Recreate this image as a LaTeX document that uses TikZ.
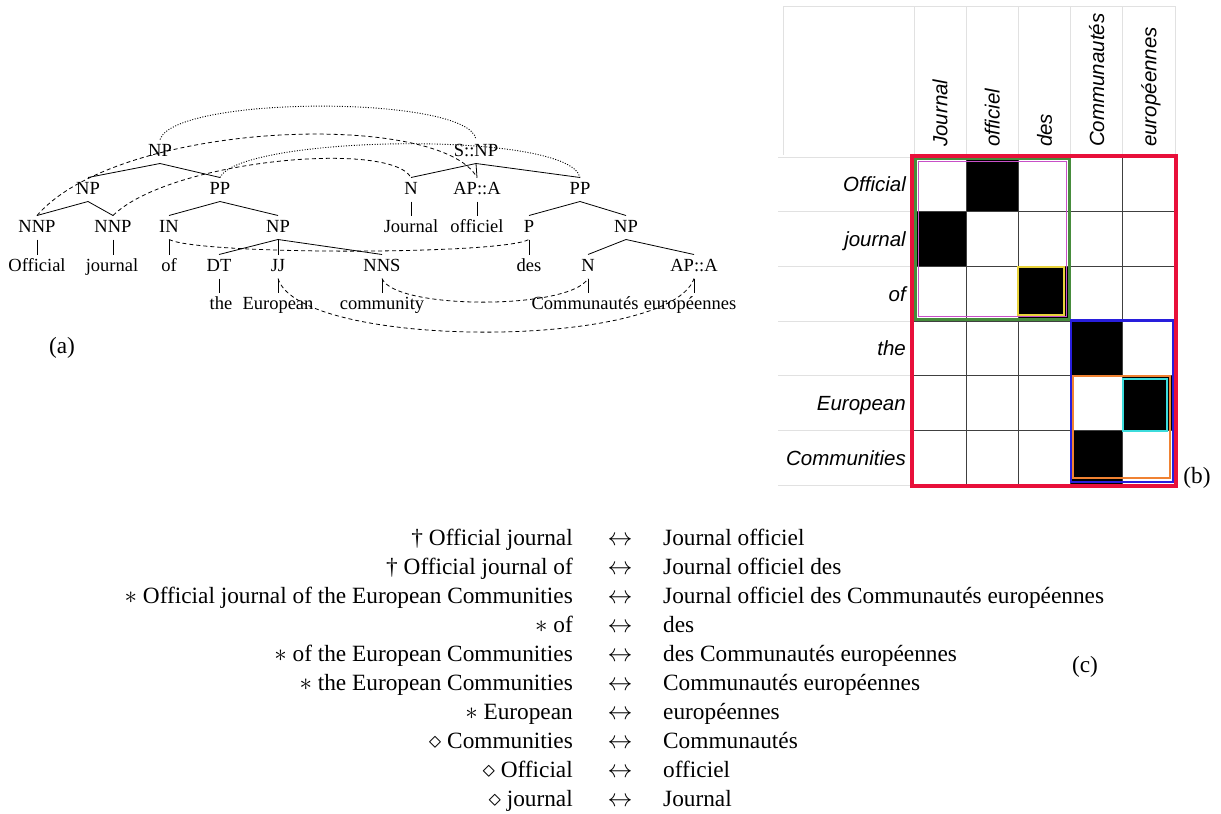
\documentclass[tikz,border=0pt]{standalone}
\usepackage{fontspec}
\setmainfont{Liberation Serif}
\newfontfamily\msans{Liberation Sans}
\usetikzlibrary{calc}
\definecolor{boxred}{RGB}{232,16,58}
\definecolor{boxgreen}{RGB}{70,140,60}
\definecolor{boxmag}{RGB}{200,80,200}
\definecolor{boxyel}{RGB}{232,210,60}
\definecolor{boxblue}{RGB}{40,30,220}
\definecolor{boxorange}{RGB}{240,130,50}
\definecolor{boxcyan}{RGB}{60,220,220}
\definecolor{sheet}{RGB}{225,225,225}
\begin{document}
\begin{tikzpicture}[x=1pt,y=-1pt,
  tn/.style={font=\fontsize{18.5}{20}\selectfont, inner sep=0pt, outer xsep=0pt, outer ysep=4.5pt, text height=12pt, text depth=3pt},
  tedge/.style={line width=0.8pt},
  aldash/.style={line width=0.8pt, dash pattern=on 4pt off 3pt},
  aldot/.style={line width=0.9pt, dash pattern=on 1pt off 1.6pt},
  lt/.style={font=\fontsize{23.3}{28}\selectfont, inner sep=0pt},
  rl/.style={font=\msans\itshape\fontsize{20.5}{24}\selectfont, inner sep=0pt, text height=14.7pt, text depth=0pt},
  gridl/.style={line width=0.8pt, black!75},
  sheetl/.style={line width=0.7pt, sheet},
  panel/.style={font=\fontsize{23.3}{28}\selectfont, inner sep=0pt}]
\useasboundingbox (0,0) rectangle (1221,814);

% ---------------- (a) tree ----------------
\node[tn] (np0) at (160,151.5) {NP};
\node[tn] (snp) at (476,151.5) {S::NP};
\node[tn] (np1) at (88,189.5) {NP};
\node[tn] (pp1) at (220,189.5) {PP};
\node[tn] (n1) at (411,189.5) {N};
\node[tn] (apa1) at (477,189.5) {AP::A};
\node[tn] (pp2) at (580,189.5) {PP};
\node[tn] (nnp1) at (37,227.5) {NNP};
\node[tn] (nnp2) at (113,227.5) {NNP};
\node[tn] (in) at (169,227.5) {IN};
\node[tn] (np2) at (278,227.5) {NP};
\node[tn] (wJournal) at (411,227.5) {Journal};
\node[tn] (wofficiel) at (477,227.5) {officiel};
\node[tn] (p) at (529,227.5) {P};
\node[tn] (np3) at (626,227.5) {NP};
\node[tn] (wOfficial) at (37,266.5) {Official};
\node[tn] (wjournal) at (112,266.5) {journal};
\node[tn] (wof) at (169,266.5) {of};
\node[tn] (dt) at (219,266.5) {DT};
\node[tn] (jj) at (278,266.5) {JJ};
\node[tn] (nns) at (382,266.5) {NNS};
\node[tn] (wdes) at (529,266.5) {des};
\node[tn] (n2) at (588,266.5) {N};
\node[tn] (apa2) at (694,266.5) {AP::A};
\node[tn] (wthe) at (221,304.5) {the};
\node[tn] (wEuropean) at (278,304.5) {European};
\node[tn] (wcommunity) at (382,304.5) {community};
\node[tn] (wCommunautes) at (585,304.5) {Communautés};
\node[tn] (weuropeennes) at (690,304.5) {européennes};

% tree edges
\draw[tedge] (np0.south) -- (np1.north);
\draw[tedge] (np0.south) -- (pp1.north);
\draw[tedge] (np1.south) -- (nnp1.north);
\draw[tedge] (np1.south) -- (nnp2.north);
\draw[tedge] (pp1.south) -- (in.north);
\draw[tedge] (pp1.south) -- (np2.north);
\draw[tedge] (nnp1.south) -- (nnp1.south |- wOfficial.north);
\draw[tedge] (nnp2.south) -- (nnp2.south |- wjournal.north);
\draw[tedge] (in.south) -- (in.south |- wof.north);
\draw[tedge] (np2.south) -- (dt.north);
\draw[tedge] (np2.south) -- (jj.north);
\draw[tedge] (np2.south) -- (nns.north);
\draw[tedge] (dt.south) -- (dt.south |- wthe.north);
\draw[tedge] (jj.south) -- (jj.south |- wEuropean.north);
\draw[tedge] (nns.south) -- (nns.south |- wcommunity.north);
\draw[tedge] (snp.south) -- (n1.north);
\draw[tedge] (snp.south) -- (apa1.north);
\draw[tedge] (snp.south) -- (pp2.north);
\draw[tedge] (n1.south) -- (n1.south |- wJournal.north);
\draw[tedge] (apa1.south) -- (apa1.south |- wofficiel.north);
\draw[tedge] (pp2.south) -- (p.north);
\draw[tedge] (pp2.south) -- (np3.north);
\draw[tedge] (p.south) -- (p.south |- wdes.north);
\draw[tedge] (np3.south) -- (n2.north);
\draw[tedge] (np3.south) -- (apa2.north);
\draw[tedge] (n2.south) -- (n2.south |- wCommunautes.north);
\draw[tedge] (apa2.south) -- (apa2.south |- weuropeennes.north);

% alignment links
\draw[aldot] (np0.north) .. controls (175,95) and (470,95) .. (snp.north);
\draw[aldash] (nnp1.north) .. controls (120,120) and (440,110) .. (apa1.north);
\draw[aldash] (nnp2.north) .. controls (170,160) and (390,140) .. (n1.north);
\draw[aldot] (pp1.north) .. controls (240,135) and (570,130) .. (pp2.north);
\draw[aldash] (in.south) .. controls (200,255) and (500,255) .. (p.south);
\draw[aldash] (nns.south) .. controls (395,310) and (570,310) .. (n2.south);
\draw[aldash] (jj.south) .. controls (300,350) and (670,350) .. (apa2.south);

\node[panel] (pa) at (62,348) {(a)};

% ---------------- (b) matrix ----------------
% spreadsheet lines
\draw[sheetl] (783,6) -- (1176,6);
\draw[sheetl] (783,6) -- (783,155);
\foreach \i in {0,...,5} \draw[sheetl] ({914+\i*52.2},6) -- ({914+\i*52.2},155);
\foreach \j in {0,...,6} \draw[sheetl] (778,{157+\j*54.7}) -- (912,{157+\j*54.7});
% black cells
\foreach \c/\r in {1/0,0/1,2/2,3/3,4/4,3/5}
  \fill[black] ({914+\c*52.2},{157+\r*54.7}) rectangle ++(52.2,54.7);
% grid
\foreach \i in {1,...,4} \draw[gridl] ({914+\i*52.2},157) -- ({914+\i*52.2},485.2);
\foreach \j in {1,...,5} \draw[gridl] (914,{157+\j*54.7}) -- (1175,{157+\j*54.7});
% coloured boxes
\draw[boxgreen, line width=3pt] (915.5,158.5) rectangle (1069.5,319);
\draw[boxmag, line width=1.5pt] (918.5,161.5) rectangle (1066.5,316.5);
\draw[boxyel, line width=2pt] (1017.5,266.5) rectangle (1064,315);
\draw[boxblue, line width=2.5pt] (1071,320.5) rectangle (1173,482);
\draw[boxorange, line width=2pt] (1072.5,375.5) rectangle (1170,478);
\draw[boxcyan, line width=2pt] (1122.5,378.5) rectangle (1167,431);
\draw[boxred, line width=4pt] (912,155.5) rectangle (1176,485.5);
% labels
\node[rl, anchor=east] (rOfficial) at (906,184.35) {Official};
\node[rl, anchor=east] (rjournal) at (906,239.05) {journal};
\node[rl, anchor=east] (rof) at (906,293.75) {of};
\node[rl, anchor=east] (rthe) at (906,348.45) {the};
\node[rl, anchor=east] (rEuropean) at (906,403.15) {European};
\node[rl, anchor=east] (rCommunities) at (906,457.85) {Communities};
\node[rl, rotate=90, anchor=west] (cJournal) at (940.1,147) {Journal};
\node[rl, rotate=90, anchor=west] (cofficiel) at (992.3,147) {officiel};
\node[rl, rotate=90, anchor=west] (cdes) at (1044.5,147) {des};
\node[rl, rotate=90, anchor=west] (cCommunautes) at (1096.7,147) {Communautés};
\node[rl, rotate=90, anchor=west] (ceuropeennes) at (1148.9,147) {européennes};
\node[panel] (pb) at (1197,478) {(b)};

% ---------------- (c) list ----------------
\foreach \k/\l/\r in {0/{\dag\ Official journal}/{Journal officiel},
  1/{\dag\ Official journal of}/{Journal officiel des},
  2/{$\ast$ Official journal of the European Communities}/{Journal officiel des Communautés européennes},
  3/{$\ast$ of}/{des},
  4/{$\ast$ of the European Communities}/{des Communautés européennes},
  5/{$\ast$ the European Communities}/{Communautés européennes},
  6/{$\ast$ European}/{européennes},
  7/{$\diamond$ Communities}/{Communautés},
  8/{$\diamond$ Official}/{officiel},
  9/{$\diamond$ journal}/{Journal}} {
  \node[lt, anchor=base east] (left\k) at (573,{545+\k*29}) {\l};
  \node[lt, anchor=base] (arr\k) at (620,{545+\k*29}) {$\leftrightarrow$};
  \node[lt, anchor=base west] (right\k) at (663,{545+\k*29}) {\r};
}
\node[panel] (pc) at (1085,667) {(c)};
\end{tikzpicture}
\end{document}
